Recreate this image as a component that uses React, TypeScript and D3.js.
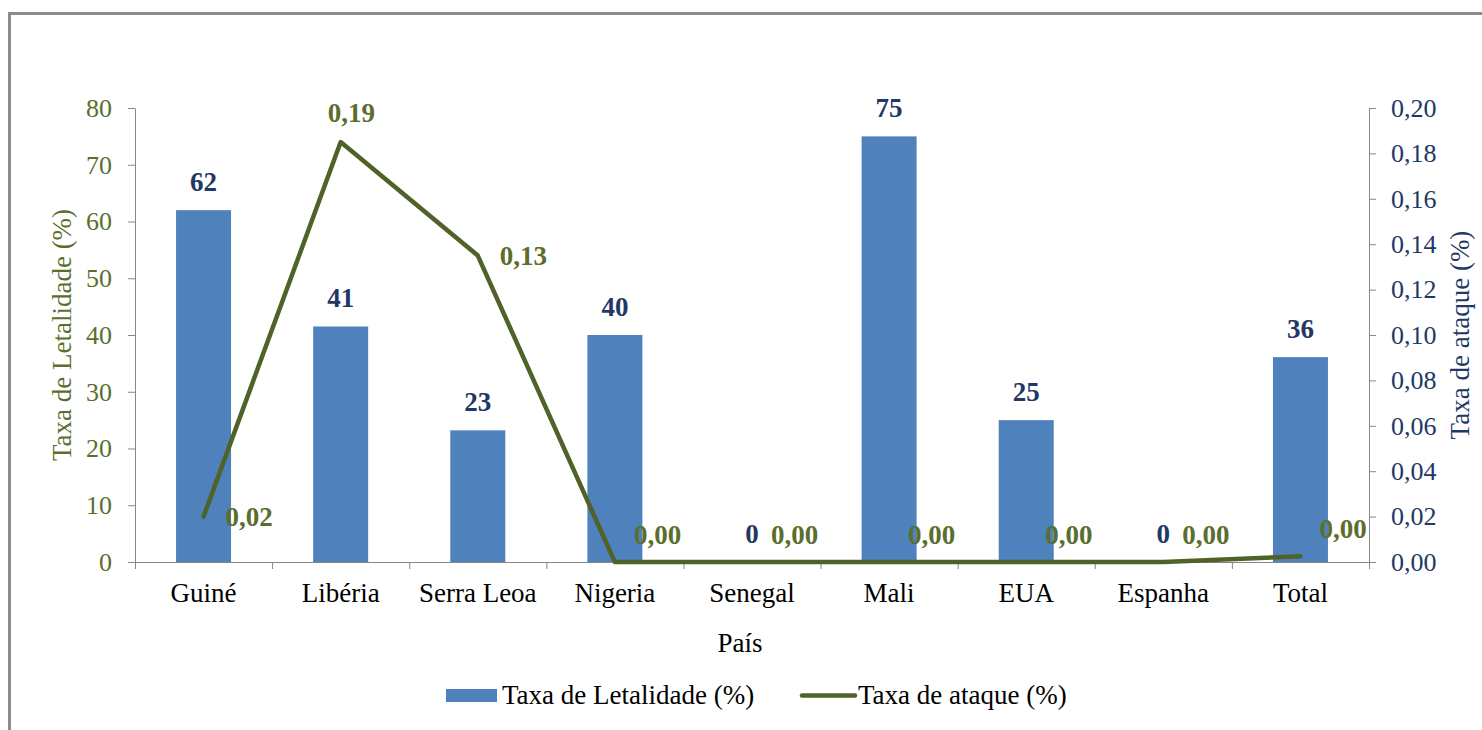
import React, { useEffect, useRef } from 'react';
import * as d3 from 'd3';

const countries = ['Guiné', 'Libéria', 'Serra Leoa', 'Nigeria', 'Senegal', 'Mali', 'EUA', 'Espanha', 'Total'];
const letalidade = [62, 41.5, 23.2, 40, 0, 75, 25, 0, 36.1];
const letalidadeLabels = ['62', '41', '23', '40', '0', '75', '25', '0', '36'];
const ataque = [0.02, 0.185, 0.135, 0, 0, 0, 0, 0, 0.0025];
const ataqueLabels = ['0,02', '0,19', '0,13', '0,00', '0,00', '0,00', '0,00', '0,00', '0,00'];
// where each line label sits relative to its point
const ataquePlacement = ['right', 'above', 'right', 'aboveRight', 'aboveRight', 'aboveRight', 'aboveRight', 'aboveRight', 'aboveRight'];
const leftTicks = [0, 10, 20, 30, 40, 50, 60, 70, 80];
const rightTicks = [0, 0.02, 0.04, 0.06, 0.08, 0.1, 0.12, 0.14, 0.16, 0.18, 0.2];

const W = 1482;
const H = 730;
const FONT = '"Liberation Serif", "Times New Roman", serif';
const BAR = '#4f81bd';
const LINE = '#4f6228';
const GREEN_TXT = '#5b6e2e';
const NAVY = '#1f3864';
const AXIS = '#868686';

export default function App() {
  const svgRef = useRef<SVGSVGElement>(null);

  useEffect(() => {
    if (!svgRef.current) return;
    const svg = d3.select(svgRef.current);
    svg.selectAll('*').remove();

    const left = 135, right = 1369, top = 108, bottom = 562;

    // Outer border (only top and left visible)
    svg.append('rect')
      .attr('x', 9.5).attr('y', 13.5)
      .attr('width', W).attr('height', H)
      .attr('fill', 'none').attr('stroke', '#8c8c8c').attr('stroke-width', 3);

    const x = d3.scaleBand<string>().domain(countries).range([left, right]).padding(0);
    const yL = d3.scaleLinear().domain([0, 80]).range([bottom, top]);
    const yR = d3.scaleLinear().domain([0, 0.2]).range([bottom, top]);
    const barW = 55;

    // Bars
    svg.append('g')
      .selectAll('rect')
      .data(letalidade)
      .join('rect')
      .attr('x', (_, i) => x(countries[i])! + x.bandwidth() / 2 - barW / 2)
      .attr('y', d => yL(d))
      .attr('width', barW)
      .attr('height', d => bottom - yL(d))
      .attr('fill', BAR);

    // Left axis
    const gL = svg.append('g')
      .attr('transform', `translate(${left},0)`)
      .call(d3.axisLeft(yL).tickValues(leftTicks).tickSize(7).tickPadding(16).tickSizeOuter(0));
    gL.select('.domain').attr('stroke', AXIS);
    gL.selectAll('line').attr('stroke', AXIS);
    gL.selectAll('text').attr('fill', GREEN_TXT).style('font-family', FONT).style('font-size', '26px');

    // Right axis
    const gR = svg.append('g')
      .attr('transform', `translate(${right},0)`)
      .call(d3.axisRight(yR).tickValues(rightTicks).tickSize(7).tickPadding(15).tickSizeOuter(0)
        .tickFormat(d => d3.format('.2f')(d as number).replace('.', ',')));
    gR.select('.domain').attr('stroke', AXIS);
    gR.selectAll('line').attr('stroke', AXIS);
    gR.selectAll('text').attr('fill', NAVY).style('font-family', FONT).style('font-size', '26px');

    // Bottom axis
    svg.append('line')
      .attr('x1', left - 7).attr('x2', right)
      .attr('y1', bottom + 0.5).attr('y2', bottom + 0.5)
      .attr('stroke', AXIS);
    svg.append('g')
      .selectAll('line')
      .data(d3.range(countries.length + 1))
      .join('line')
      .attr('x1', i => left + i * x.step() + 0.5)
      .attr('x2', i => left + i * x.step() + 0.5)
      .attr('y1', bottom).attr('y2', bottom + 7)
      .attr('stroke', AXIS);
    svg.append('g')
      .selectAll('text')
      .data(countries)
      .join('text')
      .attr('x', d => x(d)! + x.bandwidth() / 2)
      .attr('y', 602)
      .attr('text-anchor', 'middle')
      .attr('fill', '#000')
      .style('font-family', FONT).style('font-size', '27px')
      .text(d => d);

    // Axis titles
    svg.append('text')
      .attr('transform', `translate(62,${(top + bottom) / 2}) rotate(-90)`)
      .attr('text-anchor', 'middle').attr('dominant-baseline', 'central')
      .attr('fill', GREEN_TXT)
      .style('font-family', FONT).style('font-size', '27px')
      .text('Taxa de Letalidade (%)');
    svg.append('text')
      .attr('transform', `translate(1460,${(top + bottom) / 2}) rotate(-90)`)
      .attr('text-anchor', 'middle').attr('dominant-baseline', 'central')
      .attr('fill', NAVY)
      .style('font-family', FONT).style('font-size', '27px')
      .text('Taxa de ataque (%)');
    svg.append('text')
      .attr('x', 740).attr('y', 652)
      .attr('text-anchor', 'middle').attr('fill', '#000')
      .style('font-family', FONT).style('font-size', '27px')
      .text('País');

    // Line
    const line = d3.line<number>()
      .x((_, i) => x(countries[i])! + x.bandwidth() / 2)
      .y(d => yR(d));
    svg.append('path')
      .datum(ataque)
      .attr('fill', 'none')
      .attr('stroke', LINE)
      .attr('stroke-width', 4.5)
      .attr('stroke-linejoin', 'round')
      .attr('stroke-linecap', 'round')
      .attr('d', line);

    // Bar labels
    svg.append('g')
      .selectAll('text')
      .data(letalidade)
      .join('text')
      .attr('x', (_, i) => x(countries[i])! + x.bandwidth() / 2)
      .attr('y', d => yL(d) - 19)
      .attr('text-anchor', 'middle')
      .attr('fill', NAVY)
      .style('font-family', FONT).style('font-size', '27px').style('font-weight', 'bold')
      .text((_, i) => letalidadeLabels[i]);

    // Line labels
    svg.append('g')
      .selectAll('text')
      .data(ataque)
      .join('text')
      .attr('x', (_, i) => {
        const cx = x(countries[i])! + x.bandwidth() / 2;
        const p = ataquePlacement[i];
        return p === 'right' ? cx + 22 : p === 'above' ? cx - 13 : cx + 19;
      })
      .attr('y', (d, i) => {
        const cy = yR(d);
        const p = ataquePlacement[i];
        return p === 'right' ? cy : p === 'above' ? cy - 29 : cy - 27;
      })
      .attr('dominant-baseline', 'central')
      .attr('fill', GREEN_TXT)
      .style('font-family', FONT).style('font-size', '27px').style('font-weight', 'bold')
      .text((_, i) => ataqueLabels[i]);

    // Legend
    const lg = svg.append('g');
    lg.append('rect')
      .attr('x', 446).attr('y', 689).attr('width', 51).attr('height', 13)
      .attr('fill', BAR);
    lg.append('text')
      .attr('x', 502).attr('y', 704)
      .attr('fill', '#000')
      .style('font-family', FONT).style('font-size', '27px')
      .text('Taxa de Letalidade (%)');
    lg.append('line')
      .attr('x1', 802).attr('x2', 855).attr('y1', 695.5).attr('y2', 695.5)
      .attr('stroke', LINE).attr('stroke-width', 4.5).attr('stroke-linecap', 'round');
    lg.append('text')
      .attr('x', 858).attr('y', 704)
      .attr('fill', '#000')
      .style('font-family', FONT).style('font-size', '27px')
      .text('Taxa de ataque (%)');
  }, []);

  return (
    <svg
      ref={svgRef}
      width={W}
      height={H}
      style={{ position: 'absolute', left: 0, top: 0, background: '#fff' }}
    />
  );
}
